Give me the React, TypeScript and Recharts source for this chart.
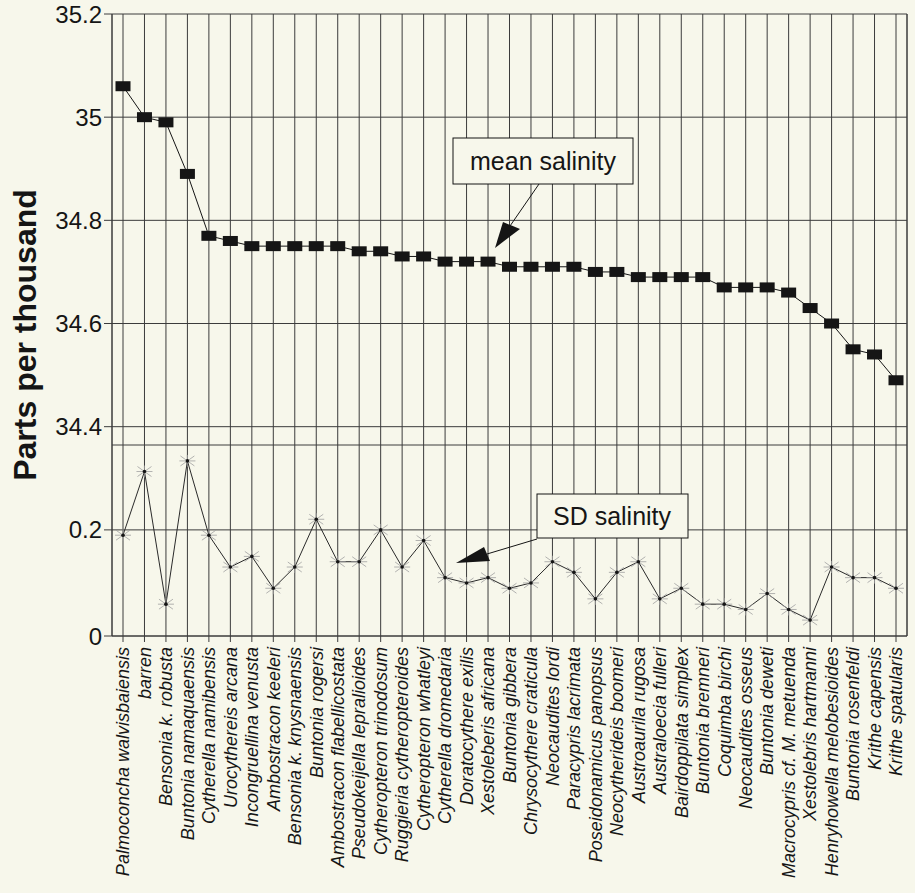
import { LineChart, Line, XAxis, YAxis, CartesianGrid } from 'recharts'

const categories = [
  'Palmoconcha walvisbaiensis', 'barren', 'Bensonia k. robusta', 'Buntonia namaquaensis',
  'Cytherella namibensis', 'Urocythereis arcana', 'Incongruellina venusta', 'Ambostracon keeleri',
  'Bensonia k. knysnaensis', 'Buntonia rogersi', 'Ambostracon flabellicostata',
  'Pseudokeijella lepralioides', 'Cytheropteron trinodosum', 'Ruggieria cytheropteroides',
  'Cytheropteron whatleyi', 'Cytherella dromedaria', 'Doratocythere exilis',
  'Xestoleberis africana', 'Buntonia gibbera', 'Chrysocythere craticula', 'Neocaudites lordi',
  'Paracypris lacrimata', 'Poseidonamicus panopsus', 'Neocytherideis boomeri',
  'Austroaurila rugosa', 'Australoecia fulleri', 'Bairdoppilata simplex', 'Buntonia bremneri',
  'Coquimba birchi', 'Neocaudites osseus', 'Buntonia deweti', 'Macrocypris cf. M. metuenda',
  'Xestolebris hartmanni', 'Henryhowella melobesioides', 'Buntonia rosenfeldi',
  'Krithe capensis', 'Krithe spatularis',
]

const meanSalinity = [
  35.06, 35.0, 34.99, 34.89, 34.77, 34.76, 34.75, 34.75, 34.75, 34.75, 34.75, 34.74, 34.74,
  34.73, 34.73, 34.72, 34.72, 34.72, 34.71, 34.71, 34.71, 34.71, 34.7, 34.7, 34.69, 34.69,
  34.69, 34.69, 34.67, 34.67, 34.67, 34.66, 34.63, 34.6, 34.55, 34.54, 34.49,
]

const sdSalinity = [
  0.19, 0.31, 0.06, 0.33, 0.19, 0.13, 0.15, 0.09, 0.13, 0.22, 0.14, 0.14, 0.2, 0.13, 0.18,
  0.11, 0.1, 0.11, 0.09, 0.1, 0.14, 0.12, 0.07, 0.12, 0.14, 0.07, 0.09, 0.06, 0.06, 0.05,
  0.08, 0.05, 0.03, 0.13, 0.11, 0.11, 0.09,
]

const meanTicks = [34.4, 34.6, 34.8, 35, 35.2]
const sdTicks = [0, 0.2]

const data = categories.map((name, i) => ({ name, mean: meanSalinity[i], sd: sdSalinity[i] }))

const BG = '#f7f7eb'
const INK = '#151515'
const GRID = '#3c3c3c'
const FONT = '"Liberation Sans", Arial, sans-serif'

// eslint-disable-next-line @typescript-eslint/no-explicit-any
const SquareDot = ({ cx, cy }: any) => <rect x={cx - 7.5} y={cy - 5} width={15} height={10} fill={INK} />

// eslint-disable-next-line @typescript-eslint/no-explicit-any
const StarDot = ({ cx, cy }: any) => (
  <g>
    <path
      d={`M${cx - 8},${cy}H${cx + 8}M${cx - 7},${cy - 5}L${cx + 7},${cy + 5}M${cx - 7},${cy + 5}L${cx + 7},${cy - 5}M${cx},${cy - 6}V${cy + 6}`}
      stroke="#a0a0a0"
      strokeWidth={0.8}
    />
    <circle cx={cx} cy={cy} r={1.8} fill={INK} />
  </g>
)

// eslint-disable-next-line @typescript-eslint/no-explicit-any
const CategoryTick = ({ x, y, payload }: any) => (
  <text
    x={x}
    y={y + 3}
    dy="0.35em"
    transform={`rotate(-90 ${x} ${y + 3})`}
    textAnchor="end"
    fontSize={18}
    fontStyle="italic"
    fontFamily={FONT}
    fill={INK}
  >
    {payload.value}
  </text>
)

const EmptyTick = () => <g />

const yTick = { fontSize: 24, fill: INK, fontFamily: FONT }

export default function App() {
  return (
    <div style={{ position: 'absolute', left: 0, top: 0, width: 915, height: 893, background: BG, overflow: 'hidden' }}>
      {/* mean salinity panel */}
      <div style={{ position: 'absolute', left: 0, top: 0 }}>
        <LineChart width={915} height={445} data={data} margin={{ top: 14, right: 0, bottom: 0, left: 0 }}>
          <CartesianGrid stroke={GRID} />
          <XAxis dataKey="name" padding={{ left: 11, right: 11 }} height={0} interval={0} tick={<EmptyTick />} tickLine={false} axisLine={{ stroke: GRID }} />
          <YAxis type="number" domain={[34.3645, 35.2]} ticks={meanTicks} allowDataOverflow interval={0} width={112} tickSize={8} tick={yTick} stroke={GRID} />
          <YAxis yAxisId="frame" orientation="right" domain={[0, 1]} width={8} tick={false} tickLine={false} stroke={GRID} />
          <Line dataKey="mean" stroke={INK} strokeWidth={1} dot={SquareDot} isAnimationActive={false} />
        </LineChart>
      </div>

      {/* SD salinity panel */}
      <div style={{ position: 'absolute', left: 0, top: 445 }}>
        <LineChart width={915} height={448} data={data} margin={{ top: 0, right: 0, bottom: 0, left: 0 }}>
          <CartesianGrid stroke={GRID} />
          <XAxis dataKey="name" padding={{ left: 11, right: 11 }} height={257} interval={0} tickSize={6} tick={<CategoryTick />} stroke={GRID} />
          <YAxis type="number" domain={[0, 0.36]} ticks={sdTicks} allowDataOverflow interval={0} width={112} tickSize={8} tick={yTick} stroke={GRID} />
          <YAxis yAxisId="frame" orientation="right" domain={[0, 1]} width={8} tick={false} tickLine={false} stroke={GRID} />
          <Line dataKey="sd" stroke="#2a2a2a" strokeWidth={1} dot={StarDot} isAnimationActive={false} />
        </LineChart>
      </div>

      {/* title and callouts */}
      <svg width={915} height={893} style={{ position: 'absolute', left: 0, top: 0, pointerEvents: 'none' }}>
        <text x={36} y={335} transform="rotate(-90 36 335)" textAnchor="middle" fontSize={32} fontWeight="bold" fontFamily={FONT} fill={INK}>
          Parts per thousand
        </text>

        <line x1={539} y1={184} x2={510} y2={226} stroke={INK} strokeWidth={1} />
        <polygon points="495,248 503,222 520,229" fill={INK} />
        <rect x={453} y={138} width={180} height={46} fill={BG} stroke={INK} strokeWidth={1} />
        <text x={543} y={161} dy="0.35em" textAnchor="middle" fontSize={25} fontFamily={FONT} fill={INK}>
          mean salinity
        </text>

        <line x1={537} y1={539} x2={487} y2={554} stroke={INK} strokeWidth={1} />
        <polygon points="456,563 484,547 490,561" fill={INK} />
        <rect x={537} y={494} width={151} height={44} fill={BG} stroke={INK} strokeWidth={1} />
        <text x={612} y={516} dy="0.35em" textAnchor="middle" fontSize={25} fontFamily={FONT} fill={INK}>
          SD salinity
        </text>
      </svg>
    </div>
  )
}
